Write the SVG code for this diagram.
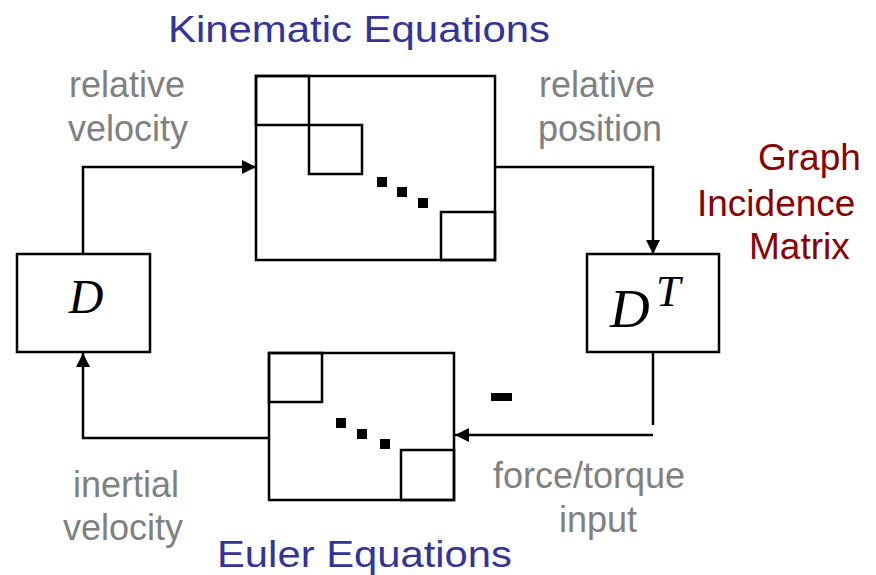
<svg xmlns="http://www.w3.org/2000/svg" width="876" height="575" viewBox="0 0 876 575">
<style>
.box{fill:#fff;stroke:#000;stroke-width:2.5}
.blk{fill:none;stroke:#000;stroke-width:2.5}
.con{fill:none;stroke:#000;stroke-width:2.5}
.dot{fill:#000}
.title{font-family:"Liberation Sans",Arial,sans-serif;font-size:37px;fill:#333399}
.grey{font-family:"Liberation Sans",Arial,sans-serif;font-size:36px;fill:#808080}
.red{font-family:"Liberation Sans",Arial,sans-serif;font-size:37px;fill:#8B0000}
.math{font-family:"Liberation Serif","Times New Roman",serif;font-style:italic;fill:#000}
</style>
<defs>
<marker id="ah" markerUnits="userSpaceOnUse" markerWidth="14" markerHeight="14" viewBox="0 0 14 14" refX="14" refY="7" orient="auto">
<path d="M0,0 L14,7 L0,14 Z" fill="#000"/>
</marker>
</defs>

<g id="connectors">
<polyline class="con" points="83,253 83,167 256,167" marker-end="url(#ah)"/>
<polyline class="con" points="495,167 653,167 653,254" marker-end="url(#ah)"/>
<line class="con" x1="653" y1="352" x2="653" y2="425"/>
<line class="con" x1="653" y1="435" x2="455" y2="435" marker-end="url(#ah)"/>
<polyline class="con" points="269,438 83,438 83,353" marker-end="url(#ah)"/>
<rect x="491" y="393" width="21" height="8" fill="#000"/>
</g>

<g id="kinematic">
<rect class="box" x="256" y="76" width="239" height="184"/>
<rect class="blk" x="256" y="76" width="53" height="49"/>
<rect class="blk" x="309" y="125" width="53" height="49"/>
<rect class="blk" x="441" y="212" width="54" height="48"/>
<rect class="dot" x="377" y="177" width="10" height="10"/>
<rect class="dot" x="397" y="187" width="10" height="10"/>
<rect class="dot" x="418" y="198" width="10" height="10"/>
</g>

<g id="euler">
<rect class="box" x="269" y="353" width="185" height="147"/>
<rect class="blk" x="269" y="353" width="53" height="49"/>
<rect class="blk" x="401" y="450" width="53" height="50"/>
<rect class="dot" x="336" y="418" width="10" height="10"/>
<rect class="dot" x="357" y="429" width="10" height="10"/>
<rect class="dot" x="380" y="439" width="10" height="10"/>
</g>

<g id="D">
<rect class="box" x="17" y="254" width="133" height="98"/>
<text class="math" x="86" y="313" font-size="48" text-anchor="middle">D</text>
</g>

<g id="DT">
<rect class="box" x="587" y="254" width="132" height="98"/>
<text class="math" x="610" y="327" font-size="55">D</text>
<text class="math" x="656" y="306" font-size="44">T</text>
</g>

<g id="labels">
<text class="title" x="168" y="42" textLength="382" lengthAdjust="spacingAndGlyphs">Kinematic Equations</text>
<text class="title" x="217" y="567" textLength="295" lengthAdjust="spacingAndGlyphs">Euler Equations</text>
<text class="grey" x="127" y="97" text-anchor="middle">relative</text>
<text class="grey" x="128" y="141" text-anchor="middle">velocity</text>
<text class="grey" x="597" y="97" text-anchor="middle">relative</text>
<text class="grey" x="600" y="141" text-anchor="middle">position</text>
<text class="grey" x="126" y="497" text-anchor="middle">inertial</text>
<text class="grey" x="123" y="540" text-anchor="middle">velocity</text>
<text class="grey" x="589" y="488" text-anchor="middle">force/torque</text>
<text class="grey" x="598" y="532" text-anchor="middle">input</text>
<text class="red" x="758" y="170">Graph</text>
<text class="red" x="697" y="216">Incidence</text>
<text class="red" x="749" y="259">Matrix</text>
</g>
</svg>
